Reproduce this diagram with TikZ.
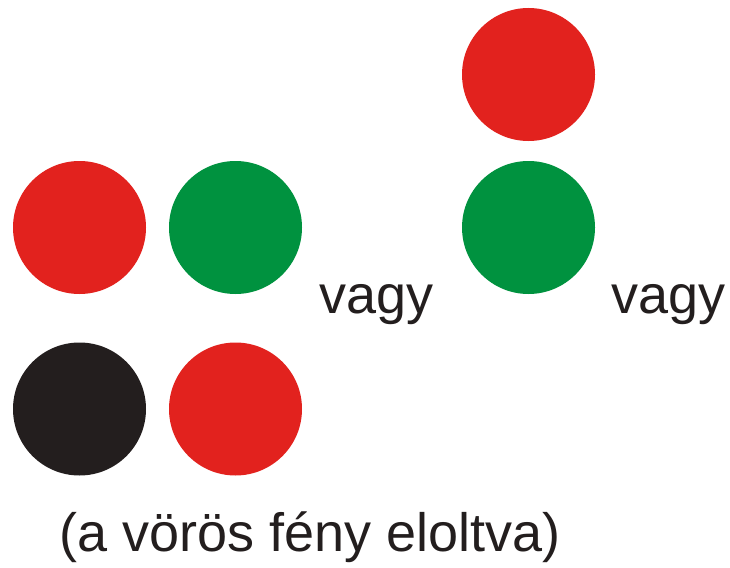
\documentclass[tikz,border=0pt]{standalone}
\usepackage{fontspec}
\setmainfont{Liberation Sans}
\definecolor{lred}{RGB}{226,34,30}
\definecolor{lgreen}{RGB}{0,146,63}
\definecolor{lblack}{RGB}{35,30,30}
\begin{document}
\begin{tikzpicture}[x=1pt,y=-1pt,
  lamp/.style={circle,inner sep=0pt,minimum size=133pt,draw=none},
  lbl/.style={anchor=base west,inner sep=0pt,font=\fontsize{54}{60}\selectfont,text=lblack}]
\useasboundingbox (0,0) rectangle (730,567);
\node[lamp,fill=lred]   (r1) at (79.5,227.5) {};
\node[lamp,fill=lgreen] (g1) at (235.5,227.5) {};
\node[lamp,fill=lblack] (b2) at (79.5,409) {};
\node[lamp,fill=lred]   (r2) at (235.5,409) {};
\node[lamp,fill=lred]   (r3) at (528.5,74.5) {};
\node[lamp,fill=lgreen] (g3) at (528.5,227.5) {};
\node[lbl] (v1) at (319,313) {vagy};
\node[lbl] (v2) at (611,313) {vagy};
\node[lbl] (note) at (59,551) {(a vörös fény eloltva)};
\end{tikzpicture}
\end{document}
